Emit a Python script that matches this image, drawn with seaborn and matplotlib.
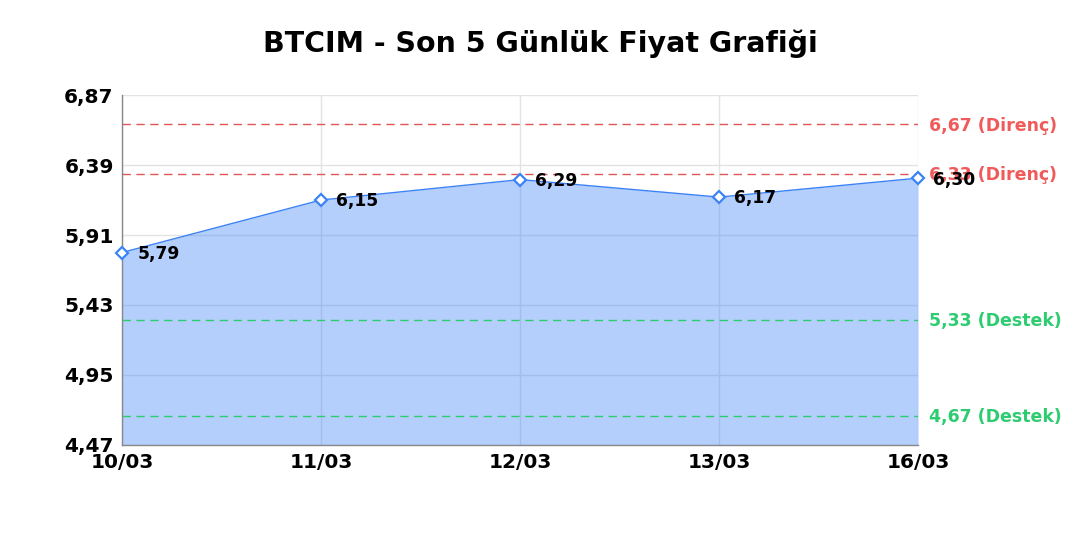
import numpy as np
import pandas as pd
import matplotlib
matplotlib.use("Agg")
import matplotlib.pyplot as plt
import seaborn as sns

dates = ["10/03", "11/03", "12/03", "13/03", "16/03"]
prices = [5.79, 6.15, 6.29, 6.17, 6.30]
resistance = [6.67, 6.33]
support = [5.33, 4.67]
y_ticks = [4.47, 4.95, 5.43, 5.91, 6.39, 6.87]

df = pd.DataFrame({"pos": np.arange(len(dates)), "price": prices})

sns.set_style("white")
plt.rcParams["font.family"] = ["DejaVu Sans"]

fig = plt.figure(figsize=(10.8, 5.4), dpi=100)
ax = fig.add_axes([0.113, 0.176, 0.737, 0.648])

# filled area under the price line, grid shows through
ax.fill_between(df["pos"], df["price"], y_ticks[0], color="#3b82f6", alpha=0.38,
                linewidth=0, zorder=1)
sns.lineplot(data=df, x="pos", y="price", ax=ax, color="#3b82f6", linewidth=1,
             marker="D", markersize=6.5, markerfacecolor="white",
             markeredgecolor="#3b82f6", markeredgewidth=1.6, zorder=3, clip_on=False)

for x, y in zip(df["pos"], df["price"]):
    ax.annotate(f"{y:.2f}".replace(".", ","), (x, y), xytext=(11, -1),
                textcoords="offset points", va="center", fontsize=12.3, fontweight="bold",
                color="#000000", zorder=5)

for r in resistance:
    ax.axhline(r, color="#e05555", linestyle=(0, (6, 4)), linewidth=1, zorder=2)
    ax.annotate(f"{r:.2f} (Direnç)".replace(".", ","), (1.0, r), xycoords=("axes fraction", "data"),
                xytext=(8, -1), textcoords="offset points", va="center", fontsize=12.5,
                fontweight="bold", color="#f05a5a")
for s in support:
    ax.axhline(s, color="#2ecc71", linestyle=(0, (6, 4)), linewidth=1, zorder=2)
    ax.annotate(f"{s:.2f} (Destek)".replace(".", ","), (1.0, s), xycoords=("axes fraction", "data"),
                xytext=(8, -1), textcoords="offset points", va="center", fontsize=12.5,
                fontweight="bold", color="#2ecc71")

ax.set_xlim(0, len(dates) - 1)
ax.set_ylim(y_ticks[0], y_ticks[-1])
ax.set_xticks(df["pos"])
ax.set_xticklabels(dates, fontsize=14.5, fontweight="bold", color="#000000")
ax.set_yticks(y_ticks)
ax.set_yticklabels([f"{t:.2f}".replace(".", ",") for t in y_ticks], fontsize=14.5,
                   fontweight="bold", color="#000000")
ax.tick_params(axis="both", length=0, pad=6)
ax.grid(True, color="#e3e3e3", linewidth=1, zorder=0)
ax.set_axisbelow(True)
ax.set_xlabel("")
ax.set_ylabel("")
for side in ["top", "right"]:
    ax.spines[side].set_visible(False)
for side in ["left", "bottom"]:
    ax.spines[side].set_color("#888888")
    ax.spines[side].set_linewidth(1)

fig.suptitle("BTCIM - Son 5 Günlük Fiyat Grafiği", fontsize=20.5, fontweight="bold",
             color="#000000", y=0.945)

fig.savefig("out.png", dpi=100)
